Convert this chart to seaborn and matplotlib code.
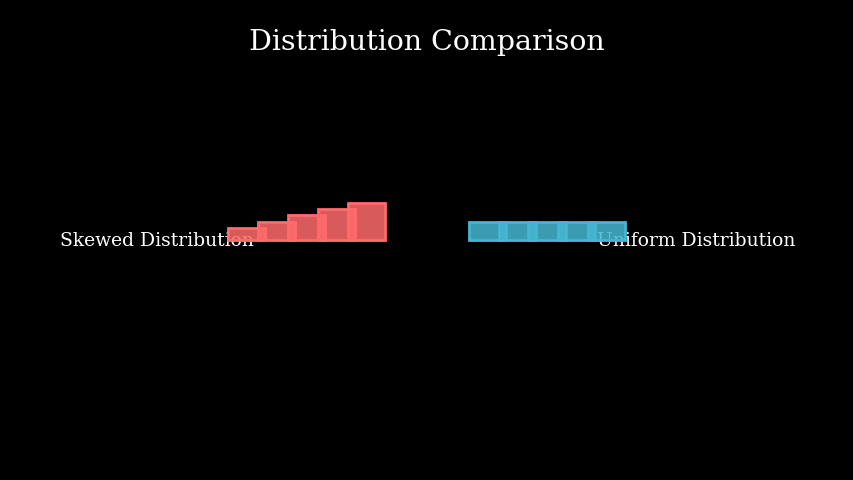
import matplotlib
matplotlib.use("Agg")
import matplotlib.pyplot as plt
import seaborn as sns
from matplotlib.colors import to_rgba

# values
bins = ["1", "2", "3", "4", "5"]
skewed = [2, 3, 4, 5, 6]
uniform = [3, 3, 3, 3, 3]

RED = "#FF6B6B"
BLUE = "#45B7D1"
BAR_W = 1.25

sns.set_theme(style="white")
plt.rcParams["font.family"] = ["DejaVu Serif"]

fig = plt.figure(figsize=(8.54, 4.8), dpi=100)
fig.patch.set_facecolor("black")


def draw_group(rect, values, color):
    ax = fig.add_axes(rect)
    sns.barplot(x=bins, y=values, color=color, saturation=1, width=BAR_W, ax=ax)
    for p in ax.patches:
        p.set_facecolor(to_rgba(color, 0.85))
        p.set_edgecolor(color)
        p.set_linewidth(2)
        p.set_clip_on(False)
    ax.set_xlim(-BAR_W / 2, len(bins) - 1 + BAR_W / 2)
    ax.set_ylim(0, 12)
    ax.patch.set_alpha(0)
    ax.axis("off")
    return ax


draw_group([228 / 854, 0.5, 157 / 854, 74 / 480], skewed, RED)
draw_group([469 / 854, 0.5, 156 / 854, 74 / 480], uniform, BLUE)

# labels sit behind the bars
fig.text(157 / 854, 0.497, "Skewed Distribution", color="white", fontsize=13.5,
         ha="center", va="center", zorder=-1)
fig.text(696 / 854, 0.497, "Uniform Distribution", color="white", fontsize=13.5,
         ha="center", va="center", zorder=-1)

fig.text(0.5, 0.912, "Distribution Comparison", color="white", fontsize=20.5,
         ha="center", va="center")

fig.savefig("out.png", dpi=100, facecolor="black")
